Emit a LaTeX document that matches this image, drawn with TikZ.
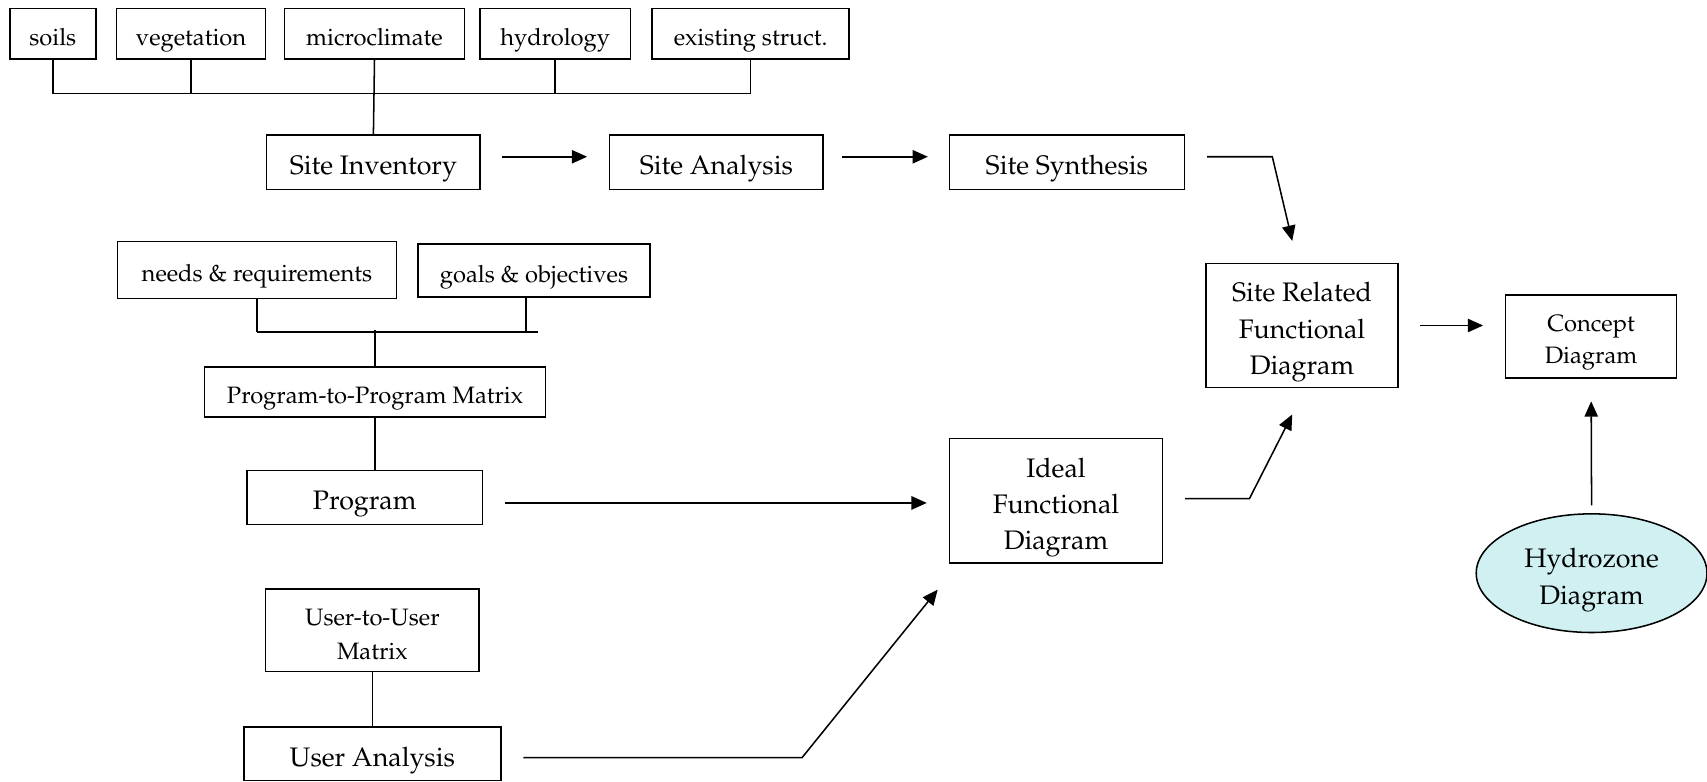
\documentclass[tikz,border=0pt]{standalone}
\usepackage[T1]{fontenc}
\usepackage{mathpazo}
\definecolor{zonecyan}{HTML}{D0F0F2}
\usetikzlibrary{arrows.meta,positioning,shapes.geometric}

\begin{document}
\begin{tikzpicture}[
  smallbox/.style={rectangle, draw, line width=0.8pt, inner sep=0pt,
    align=center, text depth=0pt, execute at begin node={\rule{0pt}{12.3pt}},
    font=\fontsize{12.4}{16.5}\selectfont},
  bigbox/.style={rectangle, draw, line width=0.8pt, inner sep=0pt,
    align=center, text depth=0pt, execute at begin node={\rule{0pt}{13pt}},
    font=\fontsize{14}{19}\selectfont},
  zone/.style={ellipse, draw, line width=0.8pt, fill=zonecyan, inner sep=0pt,
    align=center, text depth=0pt, font=\fontsize{14}{19}\selectfont},
  link/.style={line width=0.8pt},
  arr/.style={-{Triangle[length=8pt,width=7pt]}, line width=0.8pt},
]
  \useasboundingbox (0,0) rectangle (31.36,-14.36);

  % site side
  \node[smallbox, minimum width=1.58cm, minimum height=0.92cm] (soils) at (0.97,-0.62) {soils};
  \node[smallbox, minimum width=2.74cm, minimum height=0.92cm] (veg) at (3.51,-0.62) {vegetation};
  \node[smallbox, minimum width=3.3cm, minimum height=0.92cm] (micro) at (6.88,-0.62) {microclimate};
  \node[smallbox, minimum width=2.76cm, minimum height=0.92cm] (hydro) at (10.2,-0.62) {hydrology};
  \node[smallbox, minimum width=3.62cm, minimum height=0.92cm] (exist) at (13.79,-0.62) {existing struct.};

  \node[bigbox, minimum width=3.92cm, minimum height=1cm] (inv) at (6.86,-2.98) {Site Inventory};
  \node[bigbox, minimum width=3.92cm, minimum height=1cm] (ana) at (13.16,-2.98) {Site Analysis};
  \node[bigbox, minimum width=4.32cm, minimum height=1cm] (syn) at (19.6,-2.98) {Site Synthesis};
  \node[bigbox, minimum width=3.52cm, minimum height=2.28cm] (rel) at (23.92,-5.98)
    {\rule{0pt}{13.4pt}Site Related\\Functional\\Diagram};
  \node[smallbox, minimum width=3.14cm, minimum height=1.52cm] (con) at (29.23,-6.18)
    {\rule{0pt}{11.8pt}Concept\\Diagram};
  \node[zone, minimum width=4.24cm, minimum height=2.18cm] (hyd) at (29.24,-10.53)
    {\rule{0pt}{13.4pt}Hydrozone\\Diagram};

  % program side
  \node[smallbox, minimum width=5.12cm, minimum height=1.04cm] (needs) at (4.72,-4.96) {needs \& requirements};
  \node[smallbox, minimum width=4.26cm, minimum height=0.98cm] (goals) at (9.81,-4.97) {goals \& objectives};
  \node[smallbox, minimum width=6.26cm, minimum height=0.92cm] (ppm) at (6.89,-7.2) {Program-to-Program Matrix};
  \node[bigbox, minimum width=4.32cm, minimum height=1cm] (prog) at (6.7,-9.14) {Program};
  \node[bigbox, minimum width=3.92cm, minimum height=2.28cm] (ideal) at (19.4,-9.2)
    {\rule{0pt}{13.4pt}Ideal\\Functional\\Diagram};
  \node[smallbox, minimum width=3.92cm, minimum height=1.52cm] (u2u) at (6.84,-11.58)
    {\rule{0pt}{12.8pt}User-to-User\\[1pt]Matrix};
  \node[bigbox, minimum width=4.72cm, minimum height=0.98cm] (user) at (6.84,-13.85) {User Analysis};

  \coordinate (busL) at (0.96,-1.72);
  \coordinate (busR) at (13.8,-1.72);
  \draw[link] (busL) -- (busR);
  \foreach \n in {soils,veg,hydro,exist}
    \draw[link] (\n.south) -- (\n.south |- busL);
  \draw[link] (micro.south) -- (inv.north);

  \coordinate (pbusL) at (4.72,-6.1);
  \coordinate (pbusR) at (9.88,-6.1);
  \draw[link] (pbusL) -- (pbusR);
  \draw[link] (needs.south) -- (needs.south |- pbusL);
  \draw[link] ([xshift=-0.15cm]goals.south) -- ([xshift=-0.15cm]goals.south |- pbusL);
  \draw[link] (ppm.north) -- ([yshift=0.04cm]ppm.north |- pbusL);
  \draw[link] (ppm.south) -- (ppm.south |- prog.north);
  \draw[link] (u2u.south) -- (user.north);

  \draw[arr, shorten <=0.38cm, shorten >=0.4cm]
    ([yshift=0.1cm]inv.east) -- ([yshift=0.1cm]ana.west);
  \draw[arr, shorten <=0.34cm, shorten >=0.38cm]
    ([yshift=0.1cm]ana.east) -- ([yshift=0.1cm]syn.west);
  \draw[arr] ([xshift=0.4cm,yshift=0.1cm]syn.east) -- ++(1.2,0)
    -- ([xshift=-0.18cm,yshift=0.4cm]rel.north);
  \draw[arr, shorten <=0.4cm, shorten >=0.4cm] (rel.east) -- (rel.east -| con.west);
  \draw[arr, shorten <=0.14cm, shorten >=0.42cm] (hyd.north) -- (con.south);
  \draw[arr, shorten <=0.4cm, shorten >=0.4cm]
    ([yshift=-0.1cm]prog.east) -- ([yshift=-0.1cm]prog.east -| ideal.west);
  \draw[arr] ([xshift=0.4cm,yshift=0.04cm]ideal.east) -- ++(1.18,0)
    -- ([xshift=-0.18cm,yshift=-0.48cm]rel.south);
  \draw[arr] ([xshift=0.4cm,yshift=-0.07cm]user.east) -- ++(5.12,0)
    -- ([xshift=-0.2cm,yshift=-0.48cm]ideal.south west);
\end{tikzpicture}
\end{document}
